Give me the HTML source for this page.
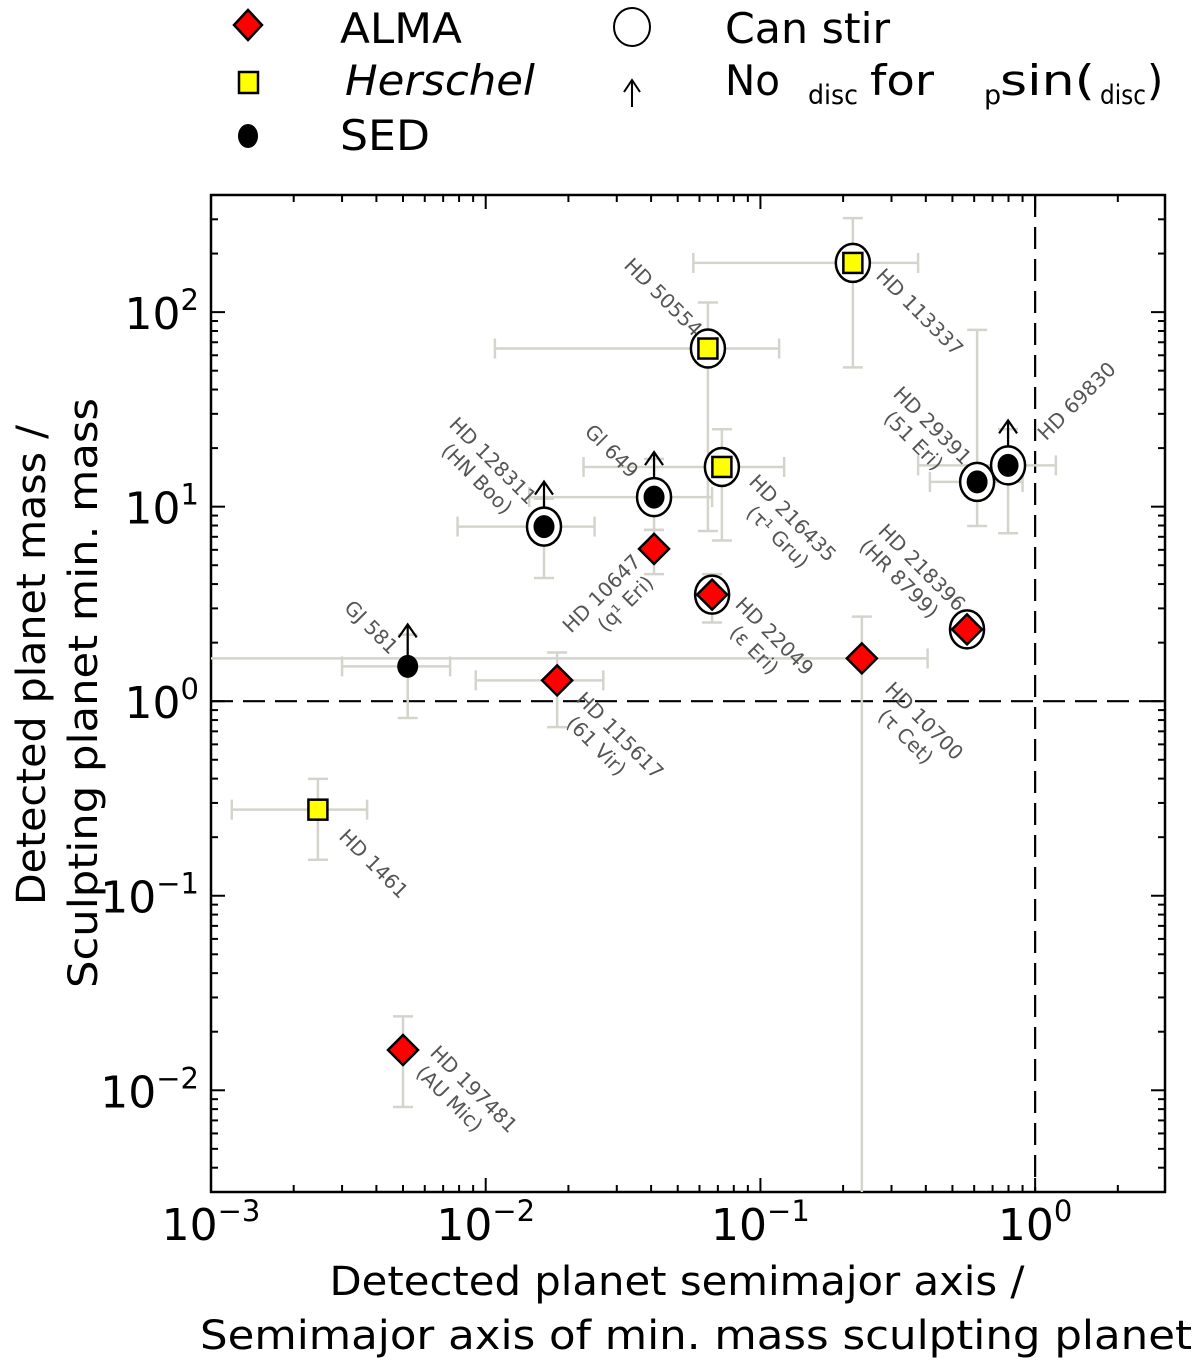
<!DOCTYPE html>
<html><head><meta charset="utf-8"><style>
html,body{margin:0;padding:0;background:#fff;}
svg{display:block;font-family:"DejaVu Sans","Liberation Sans",sans-serif;}
</style></head><body>
<svg id="chart" width="1200" height="1364" viewBox="0 0 1200 1364" xmlns="http://www.w3.org/2000/svg">
<g id="legend">
  <g>
    <polygon points="248,10 262,25 248,40 234,25" fill="#f00" stroke="#000" stroke-width="2.5"/>
    <text x="340" y="43" font-size="42" textLength="122" lengthAdjust="spacingAndGlyphs">ALMA</text>
  </g>
  <g>
    <rect x="239" y="72" width="19" height="21" fill="#ff0" stroke="#000" stroke-width="2.5"/>
    <text x="345" y="95" font-size="42" font-style="italic" textLength="190" lengthAdjust="spacingAndGlyphs">Herschel</text>
  </g>
  <g>
    <ellipse cx="248" cy="136" rx="10" ry="12" fill="#000"/>
    <text x="340" y="150" font-size="42" textLength="90" lengthAdjust="spacingAndGlyphs">SED</text>
  </g>
  <g>
    <ellipse cx="632" cy="27" rx="18" ry="19" fill="none" stroke="#000" stroke-width="2"/>
    <text x="725" y="43" font-size="42" textLength="165" lengthAdjust="spacingAndGlyphs">Can stir</text>
  </g>
  <g>
    <path d="M632,107 L632,81 M624,92 L632,80 L640,92" fill="none" stroke="#000" stroke-width="2"/>
    <text x="725" y="95" font-size="42" textLength="55" lengthAdjust="spacingAndGlyphs">No</text>
    <text x="808" y="104" font-size="27" textLength="50" lengthAdjust="spacingAndGlyphs">disc</text>
    <text x="870" y="95" font-size="42" textLength="64" lengthAdjust="spacingAndGlyphs">for</text>
    <text x="984" y="104" font-size="27">p</text>
    <text x="1000" y="95" font-size="42" textLength="95" lengthAdjust="spacingAndGlyphs">sin(</text>
    <text x="1100" y="104" font-size="27" textLength="46" lengthAdjust="spacingAndGlyphs">disc</text>
    <text x="1147" y="95" font-size="42">)</text>
  </g>
</g>
<g id="axes"></g>
<g id="errs"></g>
<g id="marks"></g>
<g id="labels"></g>
<text font-size="40" text-anchor="middle" textLength="480" lengthAdjust="spacingAndGlyphs" transform="translate(45,665) rotate(-90)">Detected planet mass /</text>
<text font-size="40" text-anchor="middle" textLength="590" lengthAdjust="spacingAndGlyphs" transform="translate(97,693) rotate(-90)">Sculpting planet min. mass</text>
<text font-size="40" text-anchor="middle" textLength="695" lengthAdjust="spacingAndGlyphs" x="677" y="1295">Detected planet semimajor axis /</text>
<text font-size="40" text-anchor="middle" textLength="992" lengthAdjust="spacingAndGlyphs" x="696" y="1349">Semimajor axis of min. mass sculpting planet</text>
</svg>
<script>
const names = ["HD 113337","HD 50554","HD 216435","Gl 649","HD 128311","HD 10647","HD 22049","HD 10700","HD 218396","HD 29391","HD 69830","GJ 581","HD 115617","HD 1461","HD 197481"];
const subnames = ["","","(τ¹ Gru)","","(HN Boo)","(q¹ Eri)","(ε Eri)","(τ Cet)","(HR 8799)","(51 Eri)","","","(61 Vir)","","(AU Mic)"];
const types = ["herschel","herschel","herschel","sed","sed","alma","alma","alma","alma","sed","sed","sed","alma","herschel","alma"];
const canStir = [1,1,1,1,1,0,1,0,1,1,1,0,0,0,0];
const noDisc = [0,0,0,1,1,0,0,0,0,0,1,1,0,0,0];
const xVals = [0.217,0.0644,0.0724,0.041,0.0163,0.041,0.0667,0.234,0.565,0.615,0.797,0.0052,0.0182,0.00245,0.005];
const xLo = [0.057,0.0108,0.0227,0.0144,0.0079,null,null,0.0005,null,0.414,0.375,0.003,0.0092,0.00119,null];
const xHi = [0.375,0.117,0.122,0.0667,0.0249,null,null,0.406,null,0.90,1.19,0.00742,0.0268,0.0037,null];
const yVals = [179,65,16,11.2,7.9,6.07,3.53,1.66,2.34,13.4,16.3,1.51,1.28,0.277,0.0161];
const yLo = [52,7.5,6.7,7.6,4.3,4.5,2.54,0.001,null,7.95,7.3,0.82,0.736,0.153,0.0082];
const yHi = [304,112,25,17.6,11,7.6,4.5,2.72,null,81,25,2.2,1.78,0.399,0.024];
const xTickLabels = ["−3","−2","−1","0"];
const yTickExp = [-2,-1,0,1,2];
const NS="http://www.w3.org/2000/svg";
const L=211,R=1165,T=195,B=1192;
const xmin=-3, xmax=Math.log10(2.97), ymin=Math.log10(0.003), ymax=Math.log10(400);
function X(v){return L+(Math.log10(v)-xmin)/(xmax-xmin)*(R-L);}
function Y(v){return B-(Math.log10(v)-ymin)/(ymax-ymin)*(B-T);}
function mk(tag,attrs,parent){const e=document.createElementNS(NS,tag);for(const k in attrs)e.setAttribute(k,attrs[k]);parent.appendChild(e);return e;}
const axes=document.getElementById('axes');
const clipDef=mk('defs',{},axes);const cp=mk('clipPath',{id:'pc'},clipDef);mk('rect',{x:L,y:T,width:R-L,height:B-T},cp);
for(let d=-3;d<=0;d++){for(let m=1;m<10;m++){const v=m*Math.pow(10,d);const x=X(v);if(x>R+0.5)continue;const len=m===1?14:7;
 const t1=mk('line',{x1:x,x2:x,y1:B,y2:B-len,stroke:'#000','stroke-width':2},axes);
 
 
 mk('line',{x1:x,x2:x,y1:T,y2:T+len,stroke:'#000','stroke-width':2},axes);}}
for(let d=-3;d<=2;d++){for(let m=1;m<10;m++){const v=m*Math.pow(10,d);const y=Y(v);if(y<T-0.5||y>B+0.5)continue;const len=m===1?14:7;
 const t1=mk('line',{x1:L,x2:L+len,y1:y,y2:y,stroke:'#000','stroke-width':2},axes);
 
 
 mk('line',{x1:R,x2:R-len,y1:y,y2:y,stroke:'#000','stroke-width':2},axes);}}
const frame=mk('rect',{x:L,y:T,width:R-L,height:B-T,fill:'none',stroke:'#000','stroke-width':2.5},axes);


xTickLabels.forEach((s,i)=>{const x=X(Math.pow(10,i-3));const t=mk('text',{x:x,y:1240,'font-size':44,'text-anchor':'middle'},axes);
 
 
 t.innerHTML='10<tspan font-size="29" dy="-19">'+s+'</tspan>';});
yTickExp.forEach(e=>{const y=Y(Math.pow(10,e));const s=e<0?'−'+(-e):String(e);const t=mk('text',{x:199,y:y+17,'font-size':44,'text-anchor':'end'},axes);
 
 
 t.innerHTML='10<tspan font-size="29" dy="-19">'+s+'</tspan>';});
const d1=mk('line',{x1:L,x2:R,y1:Y(1),y2:Y(1),stroke:'#000','stroke-width':2.2,'stroke-dasharray':'22,10'},axes);


const d2=mk('line',{x1:X(1),x2:X(1),y1:T,y2:B,stroke:'#000','stroke-width':2.2,'stroke-dasharray':'22,10'},axes);


const errs=document.getElementById('errs');errs.setAttribute('clip-path','url(#pc)');
const ec='#d4d4cc';
names.forEach((n,i)=>{const x=X(xVals[i]),y=Y(yVals[i]);
 if(xLo[i]!==null){const g=mk('g',{},errs);
  
  
  mk('line',{x1:X(xLo[i]),x2:X(xHi[i]),y1:y,y2:y,stroke:ec,'stroke-width':2.5},g);
  mk('line',{x1:X(xLo[i]),x2:X(xLo[i]),y1:y-10,y2:y+10,stroke:ec,'stroke-width':2.5},g);
  mk('line',{x1:X(xHi[i]),x2:X(xHi[i]),y1:y-10,y2:y+10,stroke:ec,'stroke-width':2.5},g);}
 if(yLo[i]!==null){const g=mk('g',{},errs);
  
  
  mk('line',{x1:x,x2:x,y1:Y(yLo[i]),y2:Y(yHi[i]),stroke:ec,'stroke-width':2.5},g);
  mk('line',{x1:x-10,x2:x+10,y1:Y(yLo[i]),y2:Y(yLo[i]),stroke:ec,'stroke-width':2.5},g);
  mk('line',{x1:x-10,x2:x+10,y1:Y(yHi[i]),y2:Y(yHi[i]),stroke:ec,'stroke-width':2.5},g);}
});
const marks=document.getElementById('marks');
names.forEach((n,i)=>{const x=X(xVals[i]),y=Y(yVals[i]);const g=mk('g',{},marks);
 
 
 if(canStir[i])mk('ellipse',{cx:x,cy:y,rx:17,ry:19,fill:'#fff',stroke:'#000','stroke-width':2.5},g);
 if(types[i]==='alma')mk('polygon',{points:`${x},${y-15} ${x+15},${y} ${x},${y+15} ${x-15},${y}`,fill:'#f00',stroke:'#000','stroke-width':2.5},g);
 else if(types[i]==='herschel')mk('rect',{x:x-9.5,y:y-10,width:19,height:20,fill:'#ff0',stroke:'#000','stroke-width':2.5},g);
 else mk('ellipse',{cx:x,cy:y,rx:10.5,ry:11.5,fill:'#000'},g);
 if(noDisc[i]){const top=y-(canStir[i]?45:42);mk('path',{d:`M${x},${y-(canStir[i]?19:11)} L${x},${top} M${x-9},${top+13} L${x},${top} L${x+9},${top+13}`,fill:'none',stroke:'#000','stroke-width':2.2},g);}
});
const labelStyle=[[22,14,45,'start',0],[-14,-11,45,'end',0],[26,16,45,'start',20],[-24,-18,45,'end',0],[-16,-21,45,'end',-10],[-12,14,-45,'end',-6],[22,11,45,'start',16],[22,32,45,'start',14],[-10,-17,45,'end',-14],[-14,-16,45,'end',-16],[38,-24,-45,'start',0],[-18,-11,45,'end',0],[18,20,45,'start',10],[20,28,45,'start',0],[26,4,45,'start',4]];
const labs=document.getElementById('labels');
names.forEach((n,i)=>{const [dx,dy,rot,anc,o2]=labelStyle[i];const x=X(xVals[i])+dx,y=Y(yVals[i])+dy;
 const t=mk('text',{transform:`translate(${x},${y}) rotate(${rot})`,'font-size':20,fill:'#555','text-anchor':anc},labs);
 
 
 t.innerHTML='<tspan x="0" y="0">'+n+'</tspan>'+(subnames[i]?'<tspan x="'+o2+'" y="24">'+subnames[i]+'</tspan>':'');});
</script>
</body></html>
